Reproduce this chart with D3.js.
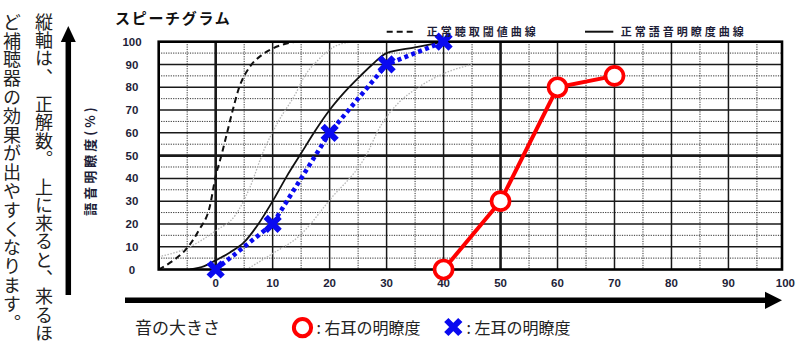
<!DOCTYPE html>
<html>
<head>
<meta charset="utf-8">
<script src="https://cdn.jsdelivr.net/npm/d3@7"></script>
<style>
  html, body { margin: 0; padding: 0; background: #fff; }
  svg { display: block; }
</style>
</head>
<body>
<svg id="chart" width="800" height="356"></svg>
<script>
// ---------------- data ----------------
const xTickValues = [0, 10, 20, 30, 40, 50, 60, 70, 80, 90, 100];
const yTickValues = [0, 10, 20, 30, 40, 50, 60, 70, 80, 90, 100];

const rightEarLevels = [40, 50, 60, 70];
const rightEarScores = [0, 30, 80, 85];

const leftEarLevels = [0, 10, 20, 30, 40];
const leftEarScores = [0, 20, 60, 90, 100];

// 正常聴取閾値曲線 (dashed)
const thresholdLevels = [-10, -8, -5, -3, -1, 0, 1, 2, 3, 4, 6, 8, 10, 14];
const thresholdScores = [0, 3, 9.5, 17, 28, 41, 50, 60, 70, 79, 89, 94, 97, 100];

// 正常語音明瞭度曲線 (solid)
const speechLevels = [-4.5, -2, 0, 2.5, 5, 7.5, 10, 12.5, 15, 17.5, 20, 22.5, 25, 27.5, 30, 35, 40];
const speechScores = [0, 1.5, 4, 7.5, 12, 20, 30, 41, 51, 61, 70, 77.5, 84, 90, 95, 97.5, 100];

// light gray reference curves
const refALevels = [-10, -5, 0, 3.5, 6, 8.4, 11, 14.2, 15.4, 18, 20.6, 24];
const refAScores = [5.6, 9.4, 17, 24, 36, 52, 65, 78, 84, 92, 97.5, 100];
const refBLevels = [5.4, 10, 14.8, 20, 26.8, 28.5, 32.3, 35, 40, 45];
const refBScores = [0, 7, 15, 30.5, 52, 61, 73.7, 79, 86, 90];

const titleText = "スピーチグラム";
const legendThreshold = "正常聴取閾値曲線";
const legendSpeech = "正常語音明瞭度曲線";
const yAxisTitle = "語音明瞭度(%)";
const xAxisTitle = "音の大きさ";
const rightLegend = ": 右耳の明瞭度";
const leftLegend = ": 左耳の明瞭度";
const noteColumn1 = "縦軸は、 正解数。 上に来ると、来るほ";
const noteColumn2 = "ど補聴器の効果が出やすくなります。";

// ---------------- layout ----------------
const svg = d3.select("#chart");
const JP = "'Noto Sans CJK JP', 'Noto Sans', sans-serif";
const NUM = "'Liberation Sans', Arial, sans-serif";

const plotLeft = 158.7, plotRight = 782, plotTop = 41.7, plotBottom = 269.5;
const x = d3.scaleLinear().domain([-10, 99.4]).range([plotLeft, plotRight]);
const y = d3.scaleLinear().domain([0, 100]).range([plotBottom, plotTop]);

svg.append("defs").append("clipPath").attr("id", "plotClip")
  .append("rect").attr("x", plotLeft).attr("y", plotTop)
  .attr("width", plotRight - plotLeft).attr("height", plotBottom - plotTop);

// grid
const grid = svg.append("g");
const minorX = d3.range(-5, 100, 10);
const majorX = d3.range(0, 100, 10);
const minorY = d3.range(5, 100, 10);
const majorY = d3.range(10, 100, 10);

grid.selectAll(".mx").data(minorX).join("line")
  .attr("x1", d => x(d)).attr("x2", d => x(d))
  .attr("y1", plotTop).attr("y2", plotBottom)
  .attr("stroke", "#333").attr("stroke-width", 1).attr("stroke-dasharray", "1.2,1.2");
grid.selectAll(".my").data(minorY).join("line")
  .attr("x1", plotLeft).attr("x2", plotRight)
  .attr("y1", d => y(d)).attr("y2", d => y(d))
  .attr("stroke", "#333").attr("stroke-width", 1).attr("stroke-dasharray", "1.2,1.2");
grid.selectAll(".Mx").data(majorX).join("line")
  .attr("x1", d => x(d)).attr("x2", d => x(d))
  .attr("y1", plotTop).attr("y2", plotBottom)
  .attr("stroke", "#1a1a1a").attr("stroke-width", d => (d === 0 || d === 50) ? 2.6 : 1.5);
grid.selectAll(".My").data(majorY).join("line")
  .attr("x1", plotLeft).attr("x2", plotRight)
  .attr("y1", d => y(d)).attr("y2", d => y(d))
  .attr("stroke", "#1a1a1a").attr("stroke-width", d => d === 50 ? 2.6 : 1.5);

// curves
const curveLine = d3.line().x(d => x(d[0])).y(d => y(d[1])).curve(d3.curveMonotoneX);
const straight = d3.line().x(d => x(d[0])).y(d => y(d[1]));
const zip = (a, b) => a.map((v, i) => [v, b[i]]);

const curves = svg.append("g").attr("clip-path", "url(#plotClip)");
curves.append("path").datum(zip(refALevels, refAScores)).attr("d", curveLine)
  .attr("fill", "none").attr("stroke", "#b5b5b5").attr("stroke-width", 1.3).attr("stroke-dasharray", "1.5,1.5");
curves.append("path").datum(zip(refBLevels, refBScores)).attr("d", curveLine)
  .attr("fill", "none").attr("stroke", "#b5b5b5").attr("stroke-width", 1.3).attr("stroke-dasharray", "1.5,1.5");
curves.append("path").datum(zip(thresholdLevels, thresholdScores)).attr("d", curveLine)
  .attr("fill", "none").attr("stroke", "#111").attr("stroke-width", 2).attr("stroke-dasharray", "6,4");
curves.append("path").datum(zip(speechLevels, speechScores)).attr("d", curveLine)
  .attr("fill", "none").attr("stroke", "#111").attr("stroke-width", 1.8);

// frame
svg.append("rect").attr("x", plotLeft).attr("y", plotTop)
  .attr("width", plotRight - plotLeft).attr("height", plotBottom - plotTop)
  .attr("fill", "none").attr("stroke", "#000").attr("stroke-width", 2.6);

// tick labels
svg.append("g").selectAll("text").data(yTickValues).join("text")
  .attr("x", 132).attr("y", d => y(d)).attr("dy", "0.35em")
  .attr("text-anchor", "middle").attr("font-family", NUM).attr("font-weight", "bold")
  .attr("font-size", 11.5).attr("fill", "#1e1e38").text(d => d);
svg.append("g").selectAll("text").data(xTickValues).join("text")
  .attr("x", d => x(d)).attr("y", 283).attr("dy", "0.35em")
  .attr("text-anchor", "middle").attr("font-family", NUM).attr("font-weight", "bold")
  .attr("font-size", 11.5).attr("fill", "#1e1e38").text(d => d);

// right ear (red)
svg.append("path").datum(zip(rightEarLevels, rightEarScores)).attr("d", straight)
  .attr("fill", "none").attr("stroke", "#ff0000").attr("stroke-width", 4);
svg.append("g").selectAll("circle").data(zip(rightEarLevels, rightEarScores)).join("circle")
  .attr("cx", d => x(d[0])).attr("cy", d => y(d[1])).attr("r", 9)
  .attr("fill", "#fff").attr("stroke", "#ff0000").attr("stroke-width", 3.6);

// left ear (blue)
svg.append("path").datum(zip(leftEarLevels, leftEarScores)).attr("d", straight)
  .attr("fill", "none").attr("stroke", "#0a0af0").attr("stroke-width", 4.5).attr("stroke-dasharray", "4,3.4");
const xMark = "M-7,-7L7,7M-7,7L7,-7";
svg.append("g").selectAll("path").data(zip(leftEarLevels, leftEarScores)).join("path")
  .attr("transform", d => `translate(${x(d[0])},${y(d[1])})`).attr("d", xMark)
  .attr("stroke", "#0a0af0").attr("stroke-width", 6).attr("fill", "none");

// title
svg.append("text").attr("x", 115).attr("y", 19).attr("dy", "0.35em")
  .attr("font-family", JP).attr("font-weight", "bold").attr("font-size", 15)
  .attr("letter-spacing", 1.7).attr("fill", "#111").text(titleText);

// top legend
svg.append("line").attr("x1", 386.7).attr("x2", 415).attr("y1", 31.7).attr("y2", 31.7)
  .attr("stroke", "#111").attr("stroke-width", 2).attr("stroke-dasharray", "6,4");
svg.append("text").attr("x", 426.7).attr("y", 31.7).attr("dy", "0.36em")
  .attr("font-family", JP).attr("font-weight", "bold").attr("font-size", 11)
  .attr("letter-spacing", 3).attr("fill", "#1e1e38").text(legendThreshold);
svg.append("line").attr("x1", 585).attr("x2", 613.3).attr("y1", 31.7).attr("y2", 31.7)
  .attr("stroke", "#111").attr("stroke-width", 2);
svg.append("text").attr("x", 620.7).attr("y", 31.7).attr("dy", "0.36em")
  .attr("font-family", JP).attr("font-weight", "bold").attr("font-size", 11)
  .attr("letter-spacing", 3).attr("fill", "#1e1e38").text(legendSpeech);

// y axis title (rotated)
svg.append("text").attr("transform", "translate(90,160) rotate(-90)")
  .attr("text-anchor", "middle").attr("dy", "0.36em")
  .attr("font-family", JP).attr("font-weight", "bold").attr("font-size", 13)
  .attr("letter-spacing", 3).attr("fill", "#1e1e38").text(yAxisTitle);

// vertical arrow
svg.append("line").attr("x1", 68.3).attr("x2", 68.3).attr("y1", 295).attr("y2", 40)
  .attr("stroke", "#000").attr("stroke-width", 5.5);
svg.append("path").attr("d", "M60.8,42L75.8,42L68.3,26Z").attr("fill", "#000");

// horizontal arrow
svg.append("line").attr("x1", 125).attr("x2", 767).attr("y1", 300.3).attr("y2", 300.3)
  .attr("stroke", "#000").attr("stroke-width", 5.5);
svg.append("path").attr("d", "M765,291.7L765,308.9L782,300.3Z").attr("fill", "#000");

// bottom legend
svg.append("text").attr("x", 135).attr("y", 328).attr("dy", "0.36em")
  .attr("font-family", JP).attr("font-size", 17).attr("fill", "#222").text(xAxisTitle);
svg.append("circle").attr("cx", 302.5).attr("cy", 327.7).attr("r", 8.6)
  .attr("fill", "none").attr("stroke", "#ff0000").attr("stroke-width", 4);
svg.append("text").attr("x", 316.5).attr("y", 328).attr("dy", "0.36em")
  .attr("font-family", JP).attr("font-size", 16).attr("fill", "#222").text(rightLegend);
svg.append("path").attr("transform", "translate(453.3,327)").attr("d", xMark)
  .attr("stroke", "#0a0af0").attr("stroke-width", 6).attr("fill", "none");
svg.append("text").attr("x", 466.5).attr("y", 328).attr("dy", "0.36em")
  .attr("font-family", JP).attr("font-size", 16).attr("fill", "#222").text(leftLegend);

// vertical note text: one glyph per cell, spaces take half a cell
function verticalColumn(str, cx, top, step) {
  const chars = Array.from(str);
  let pos = top;
  const cells = [];
  chars.forEach(c => {
    if (c === " ") { pos += step / 2; return; }
    cells.push({ c, y: pos });
    pos += step;
  });
  const g = svg.append("g");
  g.selectAll("text").data(cells).join("text")
    .attr("x", cx).attr("y", d => d.y)
    .style("writing-mode", "vertical-rl")
    .attr("font-family", JP).attr("font-size", 18)
    .attr("fill", "#222").text(d => d.c);
}
verticalColumn(noteColumn1, 44, 13, 18.3);
verticalColumn(noteColumn2, 12, 13, 18.8);
</script>
</body>
</html>
